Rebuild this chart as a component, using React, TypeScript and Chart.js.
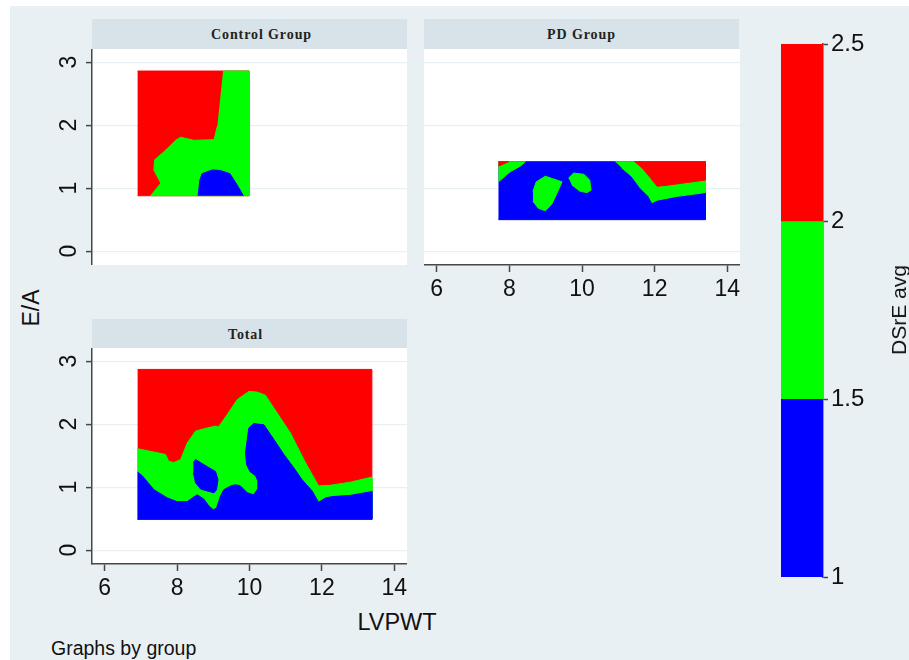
import React, { useEffect, useRef } from 'react';
import { Chart, registerables } from 'chart.js';

Chart.register(...registerables);

type XY = [number, number];

// ---------- axes / labels ----------
const xTickValues = [6, 8, 10, 12, 14];
const yTickValues = [0, 1, 2, 3];
const xRange: XY = [5.65, 14.35];
const yRange: XY = [-0.22, 3.21];

const levelTicks = [1, 1.5, 2, 2.5];
const levelBands: XY[] = [[1, 1.5], [1.5, 2], [2, 2.5]];
const levelColors = ['#0000ff', '#00ff00', '#ff0000'];
const levelTitle = 'DSrE avg';

const panelTitles = ['Control Group', 'PD Group', 'Total'];
const xTitle = 'LVPWT';
const yTitle = 'E/A';
const noteText = 'Graphs by group';

// ---------- contour regions (LVPWT, E/A) ----------
// Control Group
const controlRed: XY[] = [[6.91, 0.88], [9.99, 0.88], [9.99, 2.86], [6.91, 2.86]];
const controlGreen: XY[] = [
  [9.27, 2.86], [9.99, 2.86], [9.99, 0.88], [7.27, 0.88], [7.55, 1.08], [7.36, 1.29],
  [7.38, 1.45], [7.64, 1.58], [7.96, 1.76], [8.1, 1.81], [8.46, 1.76], [9.02, 1.77], [9.11, 1.98],
];
const controlBlue: XY[] = [
  [8.58, 0.88], [8.63, 1.13], [8.69, 1.23], [8.97, 1.29], [9.2, 1.28], [9.46, 1.23], [9.66, 1.05], [9.83, 0.88],
];

// PD Group
const pdBlue: XY[] = [[7.7, 0.5], [13.4, 0.5], [13.4, 1.42], [7.7, 1.42]];
const pdGreenTopLeft: XY[] = [[7.7, 1.42], [8.44, 1.42], [8.3, 1.35], [8.02, 1.26], [7.7, 1.1]];
const pdRedTopLeft: XY[] = [[7.7, 1.42], [7.98, 1.42], [7.7, 1.35]];
const pdGreenBlob1: XY[] = [
  [8.65, 0.95], [8.74, 1.1], [8.99, 1.19], [9.45, 1.1], [9.31, 0.92], [9.17, 0.75], [8.99, 0.64], [8.8, 0.68], [8.65, 0.79],
];
const pdGreenBlob2: XY[] = [
  [9.63, 1.16], [9.77, 1.24], [10.05, 1.22], [10.21, 1.13], [10.25, 0.97], [10.14, 0.93], [9.95, 0.95], [9.72, 1.05],
];
const pdGreenRight: XY[] = [
  [10.92, 1.42], [13.4, 1.42], [13.4, 0.93], [12.62, 0.87], [12.07, 0.81], [11.93, 0.77],
  [11.84, 0.87], [11.61, 1.0], [11.38, 1.18], [11.1, 1.32],
];
const pdRedRight: XY[] = [
  [11.44, 1.42], [13.4, 1.42], [13.4, 1.13], [12.39, 1.05], [12.07, 1.03], [11.89, 1.16], [11.7, 1.29],
];

// Total
const totalRed: XY[] = [[6.91, 0.49], [13.38, 0.49], [13.38, 2.87], [6.91, 2.87]];
const totalGreen: XY[] = [
  [6.91, 1.61], [7.68, 1.52], [7.77, 1.41], [7.91, 1.39], [8.1, 1.44], [8.28, 1.7], [8.51, 1.89],
  [8.83, 1.94], [9.06, 1.97], [9.15, 1.96], [9.38, 2.15], [9.66, 2.39], [9.98, 2.52], [10.21, 2.51],
  [10.44, 2.46], [10.76, 2.18], [11.13, 1.86], [11.5, 1.44], [11.73, 1.2], [11.91, 1.02], [12.23, 1.03],
  [12.79, 1.08], [13.38, 1.16], [13.38, 0.49], [6.91, 0.49],
];
const totalBlue: XY[] = [
  [6.91, 1.24], [7.04, 1.18], [7.36, 0.96], [7.73, 0.83], [8.0, 0.77], [8.28, 0.77], [8.42, 0.83],
  [8.56, 0.88], [8.74, 0.81], [8.88, 0.7], [9.0, 0.64], [9.09, 0.67], [9.2, 0.86], [9.29, 0.96],
  [9.48, 1.02], [9.61, 1.04], [9.75, 1.02], [9.94, 0.91], [10.12, 0.88], [10.21, 0.96], [10.23, 1.1],
  [10.17, 1.18], [10.01, 1.25], [9.92, 1.36], [9.89, 1.55], [9.94, 1.76], [9.98, 1.94], [10.12, 2.01],
  [10.4, 1.99], [10.67, 1.76], [10.95, 1.52], [11.22, 1.31], [11.45, 1.12], [11.73, 0.94], [11.91, 0.76],
  [12.1, 0.83], [12.28, 0.85], [12.79, 0.87], [13.38, 0.93], [13.38, 0.49], [6.91, 0.49],
];
const totalBlueHole: XY[] = [
  [8.45, 1.39], [8.51, 1.44], [8.65, 1.39], [8.88, 1.31], [9.06, 1.25], [9.13, 1.12], [9.09, 0.96],
  [9.02, 0.91], [8.83, 0.94], [8.65, 0.97], [8.51, 1.07], [8.45, 1.23],
];

const BLUE = levelColors[0];
const GREEN = levelColors[1];
const RED = levelColors[2];

type Layer = { pts: XY[]; color: string };

const controlLayers: Layer[] = [
  { pts: controlRed, color: RED },
  { pts: controlGreen, color: GREEN },
  { pts: controlBlue, color: BLUE },
];
const pdLayers: Layer[] = [
  { pts: pdBlue, color: BLUE },
  { pts: pdGreenTopLeft, color: GREEN },
  { pts: pdRedTopLeft, color: RED },
  { pts: pdGreenBlob1, color: GREEN },
  { pts: pdGreenBlob2, color: GREEN },
  { pts: pdGreenRight, color: GREEN },
  { pts: pdRedRight, color: RED },
];
const totalLayers: Layer[] = [
  { pts: totalRed, color: RED },
  { pts: totalGreen, color: GREEN },
  { pts: totalBlue, color: BLUE },
  { pts: totalBlueHole, color: BLUE },
];

// ---------- styles ----------
const FONT = 'Liberation Sans';
const AXIS = '#474747';
const GRID = '#e8f0f2';
const TEXT = '#111111';
const PAGE_BG = '#e9f0f3';
const STRIP_BG = '#d7e2e9';
const TICK_SIZE = 23;
const BAR_TICK_SIZE = 24;

const plotBg = {
  id: 'plotBg',
  beforeDraw(chart: any) {
    const { ctx, chartArea: a } = chart;
    if (!a) return;
    ctx.save();
    ctx.fillStyle = '#ffffff';
    ctx.fillRect(a.left, a.top, a.right - a.left, a.bottom - a.top);
    ctx.restore();
  },
};

type Box = { left: number; top: number; width: number; height: number };

function ContourPanel({ layers, showX, showY, box }: { layers: Layer[]; showX: boolean; showY: boolean; box: Box }) {
  const ref = useRef<HTMLCanvasElement | null>(null);
  useEffect(() => {
    const yAxisW = showY ? 52 : 0;
    const xAxisH = showX ? 40 : 0;
    const chart = new Chart(ref.current as HTMLCanvasElement, {
      type: 'scatter',
      data: {
        datasets: layers.map((l, i) => ({
          data: l.pts.map(([x, y]) => ({ x, y })),
          showLine: true,
          fill: 'shape',
          backgroundColor: l.color,
          borderColor: l.color,
          borderWidth: 1,
          pointRadius: 0,
          pointHoverRadius: 0,
          tension: 0,
          order: layers.length - i,
        })),
      } as any,
      options: {
        animation: false,
        responsive: false,
        events: [],
        layout: { padding: 0 },
        plugins: { legend: { display: false }, tooltip: { enabled: false } },
        scales: {
          x: {
            type: 'linear',
            min: xRange[0],
            max: xRange[1],
            display: showX,
            afterBuildTicks: (s: any) => {
              s.ticks = xTickValues.map((v) => ({ value: v }));
            },
            afterFit: (s: any) => {
              s.height = xAxisH;
              s.paddingLeft = 0;
              s.paddingRight = 0;
            },
            grid: { drawOnChartArea: false, drawTicks: true, tickLength: 7, tickColor: AXIS, tickWidth: 1.5 },
            border: { display: true, color: AXIS, width: 1.5 },
            ticks: {
              font: { family: FONT, size: TICK_SIZE },
              color: TEXT,
              padding: 4,
              maxRotation: 0,
              autoSkip: false,
              callback: (v: any) => String(v),
            },
          },
          y: {
            type: 'linear',
            min: yRange[0],
            max: yRange[1],
            afterBuildTicks: (s: any) => {
              s.ticks = yTickValues.map((v) => ({ value: v }));
            },
            afterFit: (s: any) => {
              s.width = yAxisW;
              s.paddingTop = 0;
              s.paddingBottom = 0;
            },
            grid: {
              color: GRID,
              lineWidth: 1.2,
              drawTicks: showY,
              tickLength: 6,
              tickColor: AXIS,
              tickWidth: 1.5,
            },
            border: { display: showY, color: AXIS, width: 1.5 },
            ticks: {
              display: showY,
              font: { family: FONT, size: TICK_SIZE },
              color: TEXT,
              padding: 10,
              minRotation: 90,
              maxRotation: 90,
              crossAlign: 'center',
              autoSkip: false,
              callback: (v: any) => String(v),
            },
          },
        },
      } as any,
      plugins: [plotBg],
    });
    return () => chart.destroy();
  }, []);
  return (
    <canvas
      ref={ref}
      width={box.width}
      height={box.height}
      style={{ position: 'absolute', left: box.left, top: box.top, width: box.width, height: box.height }}
    />
  );
}

function ColorBar({ box }: { box: Box }) {
  const ref = useRef<HTMLCanvasElement | null>(null);
  useEffect(() => {
    const chart = new Chart(ref.current as HTMLCanvasElement, {
      type: 'bar',
      data: {
        labels: [''],
        datasets: levelBands.map((b, i) => ({
          data: [b],
          backgroundColor: levelColors[i],
          borderWidth: 0,
          barPercentage: 1,
          categoryPercentage: 1,
          grouped: false,
        })),
      } as any,
      options: {
        animation: false,
        responsive: false,
        events: [],
        layout: { padding: { top: 10, bottom: 10, left: 0, right: 0 } },
        plugins: { legend: { display: false }, tooltip: { enabled: false } },
        scales: {
          x: { display: false },
          y: {
            position: 'right',
            min: levelTicks[0],
            max: levelTicks[levelTicks.length - 1],
            afterBuildTicks: (s: any) => {
              s.ticks = levelTicks.map((v) => ({ value: v }));
            },
            afterFit: (s: any) => {
              s.width = 86;
              s.paddingTop = 0;
              s.paddingBottom = 0;
            },
            grid: { drawOnChartArea: false, drawTicks: true, tickLength: 5, tickColor: AXIS, tickWidth: 1.5 },
            border: { display: true, color: AXIS, width: 1.5 },
            ticks: {
              font: { family: FONT, size: BAR_TICK_SIZE },
              color: TEXT,
              padding: 3,
              autoSkip: false,
              callback: (v: any) => String(v),
            },
          },
        },
      } as any,
    });
    return () => chart.destroy();
  }, []);
  return (
    <canvas
      ref={ref}
      width={box.width}
      height={box.height}
      style={{ position: 'absolute', left: box.left, top: box.top, width: box.width, height: box.height }}
    />
  );
}

function Strip({ text, left, top, width, height, shift = 0 }: { text: string; left: number; top: number; width: number; height: number; shift?: number }) {
  return (
    <div
      style={{
        position: 'absolute',
        left,
        top,
        width,
        height,
        background: STRIP_BG,
        display: 'flex',
        alignItems: 'center',
        justifyContent: 'center',
        fontFamily: "'Liberation Serif', 'DejaVu Serif', serif",
        fontWeight: 'bold',
        fontSize: 14,
        letterSpacing: 0.9,
        color: '#222',
        whiteSpace: 'pre',
      }}
    >
      <span style={{ position: 'relative', left: shift, top: 1 }}>{text}</span>
    </div>
  );
}

const SANS = "'Liberation Sans', Arial, sans-serif";

export default function App() {
  return (
    <div style={{ position: 'absolute', left: 0, top: 0, width: 909, height: 660, background: '#ffffff', overflow: 'hidden' }}>
      <div style={{ position: 'absolute', left: 10, top: 6, right: 0, bottom: 0, background: PAGE_BG }} />

      <Strip text={panelTitles[0]} left={92} top={19} width={315} height={30} shift={12} />
      <Strip text={panelTitles[1]} left={424} top={19} width={315} height={30} />
      <Strip text={panelTitles[2]} left={92} top={319} width={315} height={29} shift={-4} />

      <ContourPanel layers={controlLayers} showX={false} showY={true} box={{ left: 40, top: 49, width: 367, height: 216 }} />
      <ContourPanel layers={pdLayers} showX={true} showY={false} box={{ left: 424, top: 49, width: 316, height: 256 }} />
      <ContourPanel layers={totalLayers} showX={true} showY={true} box={{ left: 40, top: 348, width: 367, height: 256 }} />

      <ColorBar box={{ left: 781, top: 34, width: 128, height: 553 }} />

      <div
        style={{
          position: 'absolute',
          left: 31,
          top: 308,
          transform: 'translate(-50%, -50%) rotate(-90deg)',
          fontFamily: SANS,
          fontSize: 23,
          color: TEXT,
          whiteSpace: 'nowrap',
        }}
      >
        {yTitle}
      </div>
      <div
        style={{
          position: 'absolute',
          left: 397,
          top: 622,
          transform: 'translate(-50%, -50%)',
          fontFamily: SANS,
          fontSize: 23.5,
          color: TEXT,
          whiteSpace: 'nowrap',
        }}
      >
        {xTitle}
      </div>
      <div
        style={{
          position: 'absolute',
          left: 899,
          top: 310,
          transform: 'translate(-50%, -50%) rotate(-90deg)',
          fontFamily: SANS,
          fontSize: 21,
          color: TEXT,
          whiteSpace: 'nowrap',
        }}
      >
        {levelTitle}
      </div>
      <div
        style={{
          position: 'absolute',
          left: 51,
          top: 648,
          transform: 'translate(0, -50%)',
          fontFamily: SANS,
          fontSize: 19.5,
          color: TEXT,
          whiteSpace: 'nowrap',
        }}
      >
        {noteText}
      </div>
    </div>
  );
}
